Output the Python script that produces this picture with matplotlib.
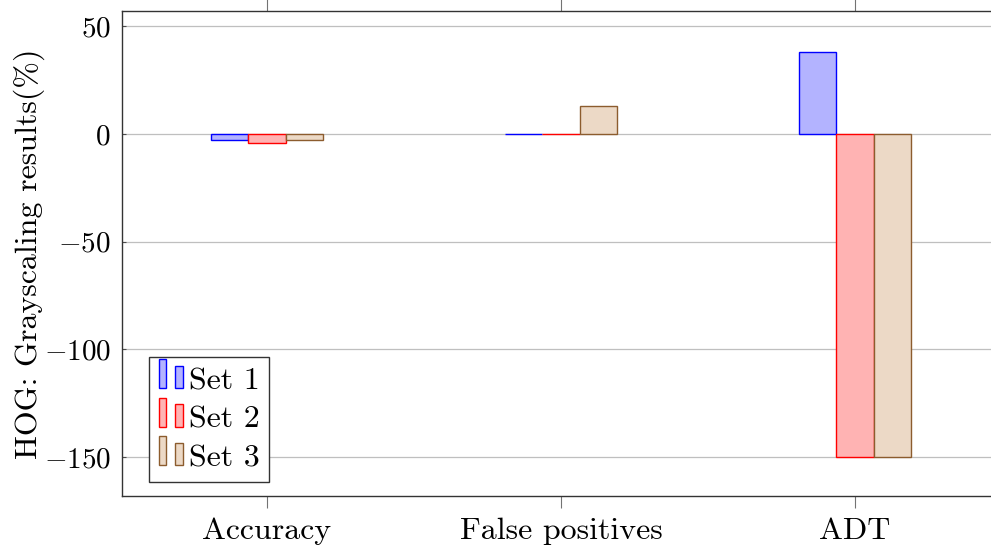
import matplotlib
matplotlib.use("Agg")
import matplotlib.pyplot as plt
from matplotlib.patches import Rectangle
from matplotlib.legend_handler import HandlerBase
import numpy as np

categories = ["Accuracy", "False positives", "ADT"]
set1 = [-3.0, 0.0, 38.0]
set2 = [-4.4, 0.0, -150.0]
set3 = [-3.0, 13.0, -150.0]
series_names = ["Set 1", "Set 2", "Set 3"]
y_ticks = [50, 0, -50, -100, -150]

fills = [(0.7, 0.7, 1.0), (1.0, 0.7, 0.7), (0.925, 0.85, 0.775)]
edges = [(0.0, 0.0, 1.0), (1.0, 0.0, 0.0), (0.55, 0.36, 0.18)]

plt.rcParams["mathtext.fontset"] = "cm"
plt.rcParams["font.family"] = ["cmr10", "DejaVu Serif"]
plt.rcParams["axes.unicode_minus"] = False
FS = 23


class TwoBarHandler(HandlerBase):
    """Legend key drawn as two small bars, pgfplots ybar style."""
    def create_artists(self, legend, orig_handle, xdescent, ydescent,
                       width, height, fontsize, trans):
        fc = orig_handle.get_facecolor()
        ec = orig_handle.get_edgecolor()
        bw = 0.3 * width
        r1 = Rectangle((-xdescent, -ydescent + 0.05 * height), bw, 1.3 * height,
                       facecolor=fc, edgecolor=ec, lw=1.0, transform=trans)
        r2 = Rectangle((-xdescent + 0.65 * width, -ydescent + 0.05 * height), bw,
                       1.0 * height, facecolor=fc, edgecolor=ec, lw=1.0,
                       transform=trans)
        return [r1, r2]


fig = plt.figure(figsize=(9.91, 5.5), dpi=100)
ax = fig.add_axes([122 / 991, 1 - 496 / 550, 878 / 991, 485 / 550])

x = np.arange(len(categories))
w = 0.127
handles = []
for i, vals in enumerate([set1, set2, set3]):
    b = ax.bar(x + (i - 1) * w, vals, width=w, color=fills[i],
               edgecolor=edges[i], linewidth=1.0, zorder=3,
               label=series_names[i])
    handles.append(b.patches[0])

ax.set_xlim(-0.493, 2.493)
ax.set_ylim(-168, 57)
ax.set_xticks(x)
ax.set_xticklabels(categories, fontsize=FS)
ax.set_yticks(y_ticks)
ax.set_yticklabels([f"${v}$" if v >= 0 else f"$-{abs(v)}$" for v in y_ticks],
                   fontsize=21)
ax.grid(axis="y", color=(0.75, 0.75, 0.75), linewidth=0.9, zorder=0)
ax.set_axisbelow(True)

ax.tick_params(axis="x", direction="out", top=True, bottom=True, length=8.5,
               width=0.8, color=(0.45, 0.45, 0.45), pad=7)
ax.tick_params(axis="y", direction="in", left=True, right=True, length=3,
               width=0.8, color=(0.3, 0.3, 0.3), pad=8)
for s in ax.spines.values():
    s.set_color((0.2, 0.2, 0.2))
    s.set_linewidth(1.0)

ax.set_ylabel("HOG: Grayscaling results(%)", fontsize=FS, labelpad=-1)

leg = ax.legend(handles, series_names, loc="lower left",
                bbox_to_anchor=(0.031, 0.029), borderaxespad=0,
                fontsize=FS, handler_map={Rectangle: TwoBarHandler()},
                handlelength=0.8, handleheight=0.7, handletextpad=0.15,
                labelspacing=0.32, borderpad=0.3, fancybox=False,
                framealpha=1.0, edgecolor=(0.2, 0.2, 0.2))
leg.get_frame().set_linewidth(1.0)

fig.savefig("out.png", dpi=100)
